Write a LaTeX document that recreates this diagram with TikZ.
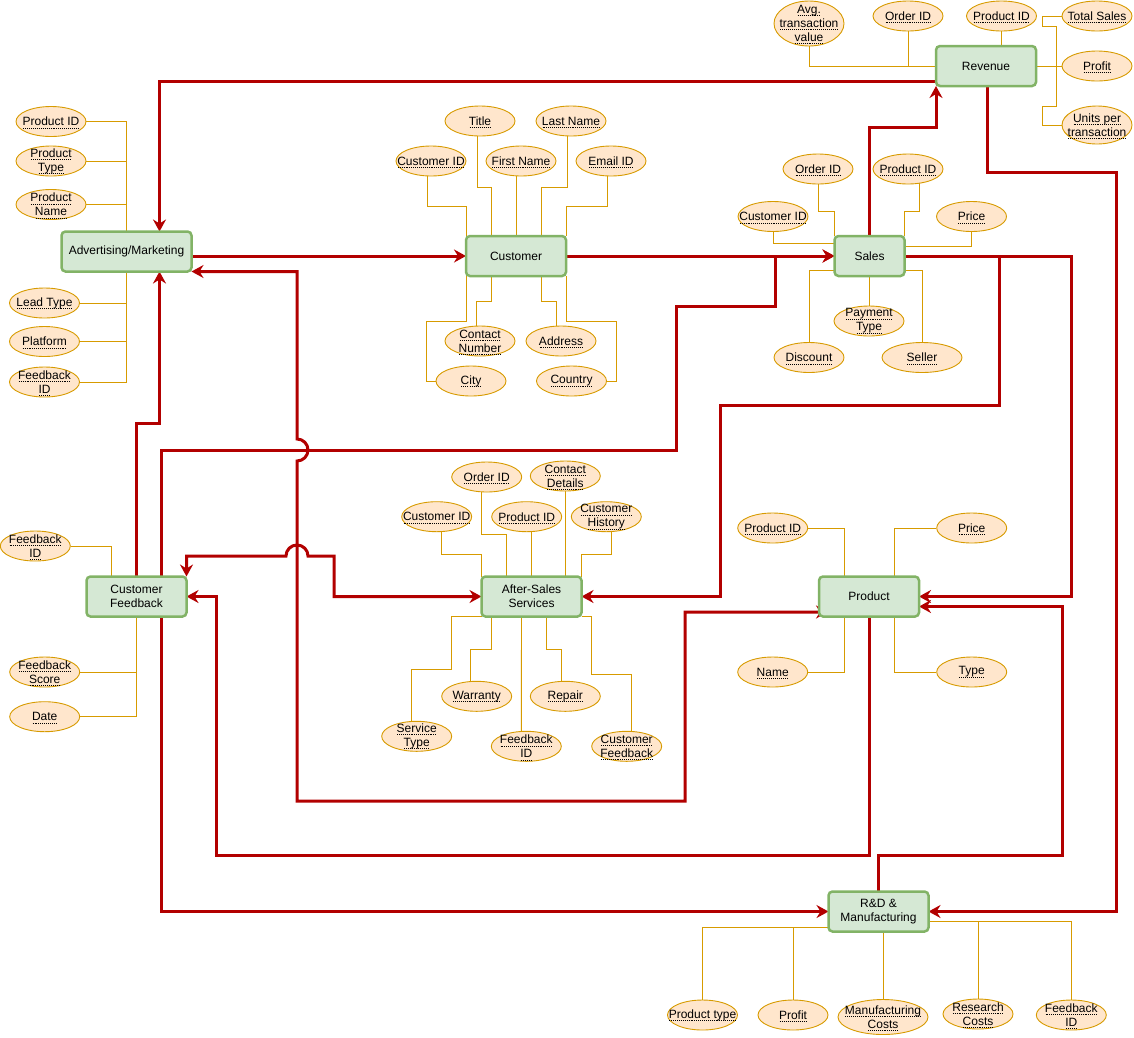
\documentclass[tikz,border=0pt]{standalone}
\usepackage{fontspec}
\setmainfont{Liberation Sans}
\usetikzlibrary{shapes.geometric,arrows.meta}
\pgfdeclarelayer{background}
\pgfsetlayers{background,main}
% dotted underline for attribute names
\newsavebox\dulbox
\newcommand\dul[1]{\sbox\dulbox{#1}\smash{\rlap{\lower2.5pt\hbox to\wd\dulbox{\xleaders\hbox{\kern0.5pt\vrule width0.9pt height0.6pt depth0pt\kern0.5pt}\hfill}}}\usebox\dulbox}

\begin{document}
\begin{tikzpicture}[x=1pt, y=-1pt,
    font=\fontsize{12}{14}\selectfont,
    >={Stealth[length=12pt,width=13pt,inset=4pt]},
    entity/.style={draw=entityBorder, fill=entityFill, line width=2.5pt, rounded corners=4pt,
        minimum width=100pt, minimum height=40pt, inner sep=0pt, outer sep=0pt, align=center},
    attr/.style={ellipse, draw=attrBorder, fill=attrFill, line width=0.9pt, minimum width=70pt,
        minimum height=30pt, inner xsep=-10pt, inner ysep=-4pt, align=center},
    attrLine/.style={draw=attrBorder, line width=0.9pt},
    link/.style={draw=linkRed, line width=3pt, ->},
    biLink/.style={draw=linkRed, line width=3pt, <->}]

    \definecolor{entityBorder}{HTML}{82B366}
    \definecolor{entityFill}{HTML}{D5E8D4}
    \definecolor{attrBorder}{HTML}{D79B00}
    \definecolor{attrFill}{HTML}{FFE6CC}
    \definecolor{linkRed}{HTML}{B20000}

    \useasboundingbox (0,0) rectangle (1134,1037);

    % Entities
    \node[entity] (revenue) at (986,66) {Revenue};
    \node[entity, minimum width=130pt] (adv) at (126.5,251.5) {Advertising/Marketing};
    \node[entity] (cust) at (516,256) {Customer};
    \node[entity, minimum width=70pt] (sales) at (869.5,256) {Sales};
    \node[entity] (custFb) at (136.5,596.5) {Customer\\Feedback};
    \node[entity] (after) at (531.5,596.5) {After-Sales\\Services};
    \node[entity] (product) at (869,596.5) {Product};
    \node[entity] (rnd) at (878.5,911.5) {R\&D \&\\Manufacturing};

    % Revenue attributes
    \node[attr, minimum height=45pt] (revAvg) at (809,23.5) {\dul{Avg.}\\\dul{transaction}\\\dul{value}};
    \node[attr] (revOrder) at (908,16) {\dul{Order ID}};
    \node[attr] (revProduct) at (1001.5,16) {\dul{Product ID}};
    \node[attr] (revTotal) at (1097,16) {\dul{Total Sales}};
    \node[attr] (revProfit) at (1097,66) {\dul{Profit}};
    \node[attr, minimum height=38pt] (revUnits) at (1097,125) {\dul{Units per}\\\dul{transaction}};

    % Advertising/Marketing attributes
    \node[attr] (adProduct) at (51,121.5) {\dul{Product ID}};
    \node[attr] (adType) at (51,161) {\dul{Product}\\\dul{Type}};
    \node[attr] (adName) at (51,204.5) {\dul{Product}\\\dul{Name}};
    \node[attr] (adLead) at (44.5,303) {\dul{Lead Type}};
    \node[attr] (adPlatform) at (44.5,341.5) {\dul{Platform}};
    \node[attr] (adFeedback) at (44.5,382) {\dul{Feedback}\\\dul{ID}};

    % Customer attributes
    \node[attr] (custTitle) at (480,121) {\dul{Title}};
    \node[attr] (custLast) at (571,121) {\dul{Last Name}};
    \node[attr] (custId) at (431,161) {\dul{Customer ID}};
    \node[attr] (custFirst) at (521,161) {\dul{First Name}};
    \node[attr] (custEmail) at (611,161) {\dul{Email ID}};
    \node[attr] (custContact) at (480,341) {\dul{Contact}\\\dul{Number}};
    \node[attr] (custAddress) at (561,341) {\dul{Address}};
    \node[attr] (custCity) at (471,381) {\dul{City}};
    \node[attr] (custCountry) at (571.5,381) {\dul{Country}};

    % Sales attributes
    \node[attr] (salesOrder) at (818,169) {\dul{Order ID}};
    \node[attr] (salesProduct) at (908,169) {\dul{Product ID}};
    \node[attr] (salesCust) at (773,216.5) {\dul{Customer ID}};
    \node[attr] (salesPrice) at (971.5,216.5) {\dul{Price}};
    \node[attr] (payType) at (869,321) {\dul{Payment}\\\dul{Type}};
    \node[attr] (salesDiscount) at (809,357.5) {\dul{Discount}};
    \node[attr, minimum width=80pt] (salesSeller) at (922,357.5) {\dul{Seller}};

    % After-Sales Services attributes
    \node[attr] (asOrder) at (486.7,477) {\dul{Order ID}};
    \node[attr] (asContact) at (565.3,476) {\dul{Contact}\\\dul{Details}};
    \node[attr] (asCust) at (436.7,516.7) {\dul{Customer ID}};
    \node[attr] (asProduct) at (526.7,516.7) {\dul{Product ID}};
    \node[attr] (asHistory) at (606.3,516.7) {\dul{Customer}\\\dul{History}};
    \node[attr] (asService) at (416.7,736.3) {\dul{Service}\\\dul{Type}};
    \node[attr] (asWarranty) at (476.7,696.3) {\dul{Warranty}};
    \node[attr] (asFeedback) at (526.3,746.3) {\dul{Feedback}\\\dul{ID}};
    \node[attr] (asRepair) at (565.3,696.3) {\dul{Repair}};
    \node[attr] (asCustFb) at (626.7,746.3) {\dul{Customer}\\\dul{Feedback}};

    % Customer Feedback attributes
    \node[attr] (cfId) at (35.3,546) {\dul{Feedback}\\\dul{ID}};
    \node[attr] (cfScore) at (44.7,672) {\dul{Feedback}\\\dul{Score}};
    \node[attr] (cfDate) at (44.7,716.7) {\dul{Date}};

    % Product attributes
    \node[attr] (prodId) at (772.7,528) {\dul{Product ID}};
    \node[attr] (prodPrice) at (971.7,528) {\dul{Price}};
    \node[attr] (prodName) at (772.7,672) {\dul{Name}};
    \node[attr] (prodType) at (971.7,672) {\dul{Type}};

    % R&D attributes
    \node[attr] (rdType) at (702.5,1015) {\dul{Product type}};
    \node[attr] (rdProfit) at (793,1015) {\dul{Profit}};
    \node[attr, minimum width=90pt, minimum height=35pt] (rdMfg) at (883,1017) {\dul{Manufacturing}\\\dul{Costs}};
    \node[attr] (rdResearch) at (978,1014) {\dul{Research}\\\dul{Costs}};
    \node[attr] (rdFeedback) at (1071.3,1015) {\dul{Feedback}\\\dul{ID}};

    \begin{pgfonlayer}{background}
    % Attribute lines
    \draw[attrLine] (revAvg.south) |- (revenue.west);
    \draw[attrLine] (revOrder.south) -- (revOrder.south |- revenue.west);
    \draw[attrLine] (revProduct.south) -- (revProduct.south |- revenue.north);
    \draw[attrLine] (revenue.east) -- (revProfit.west);
    \draw[attrLine] (revTotal.west) -- ++(-19,0) -- ++(0,10) -- ++(14,0) -- ++(0,80) -- ++(-14,0) |- (revUnits.west);

    \draw[attrLine] (adProduct.east) -| (adv.north);
    \draw[attrLine] (adType.east) -- (adType.east -| adv.north);
    \draw[attrLine] (adName.east) -- (adName.east -| adv.north);
    \draw[attrLine] (adFeedback.east) -| (adv.south);
    \draw[attrLine] (adLead.east) -- (adLead.east -| adv.south);
    \draw[attrLine] (adPlatform.east) -- (adPlatform.east -| adv.south);

    \draw[attrLine] ([xshift=-4pt]custId.south) -- ++(0,30) -| (cust.north west);
    \draw[attrLine] ([xshift=-3pt]custTitle.south) -- ++(0,51) -| ([xshift=-25pt]cust.north);
    \draw[attrLine] (cust.north) -- (cust.north |- custFirst.south);
    \draw[attrLine] ([xshift=-4pt]custLast.south) -- ++(0,51) -| ([xshift=25pt]cust.north);
    \draw[attrLine] ([xshift=-4pt]custEmail.south) -- ++(0,30) -| (cust.north east);
    \draw[attrLine] (cust.south west) -- ++(0,45) -- ++(-40,0) |- (custCity.west);
    \draw[attrLine] ([xshift=-25pt]cust.south) -- ++(0,25) -| ([xshift=-4pt]custContact.north);
    \draw[attrLine] ([xshift=25pt]cust.south) -- ++(0,25) -| ([xshift=-5pt]custAddress.north);
    \draw[attrLine] (cust.south east) -- ++(0,45) -- ++(50,0) |- (custCountry.east);

    \draw[attrLine] (salesOrder.south) -- ++(0,27) -| (sales.north west);
    \draw[attrLine] ([xshift=11pt,yshift=1pt]salesProduct.south) -- ++(0,28) -| (sales.north east);
    \draw[attrLine] (salesCust.south) |- ([yshift=-7pt]sales.north west);
    \draw[attrLine] (salesPrice.south) |- ([yshift=-10pt]sales.north east);
    \draw[attrLine] (salesDiscount.north) |- ([yshift=6pt]sales.south west);
    \draw[attrLine] (sales.south) -- (sales.south |- payType.north);
    \draw[attrLine] (salesSeller.north) |- ([yshift=6pt]sales.south east);

    \draw[attrLine] ([xshift=5pt]asCust.south) -- ++(0,22) -| (after.north west);
    \draw[attrLine] ([xshift=-5pt]asOrder.south) -- ++(0,42) -| ([xshift=-25pt]after.north);
    \draw[attrLine] ([xshift=5pt]asProduct.south) -- ([xshift=5pt]asProduct.south |- after.north);
    \draw[attrLine] (asContact.south) -- (asContact.south |- after.north);
    \draw[attrLine] ([xshift=5pt]asHistory.south) -- ++(0,22) -| (after.north east);
    \draw[attrLine] (after.south west) -- ++(-30,0) -- ++(0,53) -| ([xshift=-5pt]asService.north);
    \draw[attrLine] ([xshift=-40pt]after.south) -- ++(0,33) -| ([xshift=-6pt]asWarranty.north);
    \draw[attrLine] ([xshift=-10pt]after.south) -- ([xshift=-5pt]asFeedback.north);
    \draw[attrLine] ([xshift=15pt]after.south) -- ++(0,33) -| ([xshift=-4pt]asRepair.north);
    \draw[attrLine] (after.south east) -- ++(10,0) -- ++(0,58) -| ([xshift=5pt]asCustFb.north);

    \draw[attrLine] (cfId.east) -| ([xshift=-25pt]custFb.north);
    \draw[attrLine] (cfDate.east) -| (custFb.south);
    \draw[attrLine] (cfScore.east) -- (cfScore.east -| custFb.south);

    \draw[attrLine] (prodId.east) -| ([xshift=-25pt]product.north);
    \draw[attrLine] (prodPrice.west) -| ([xshift=25pt]product.north);
    \draw[attrLine] (prodName.east) -| ([xshift=-25pt]product.south);
    \draw[attrLine] (prodType.west) -| ([xshift=25pt]product.south);

    \draw[attrLine] (rdType.north) |- ([yshift=4pt]rnd.south west);
    \draw[attrLine] (rdProfit.north) -- (rdProfit.north |- 0,928);
    \draw[attrLine] (rdMfg.north) -- (rdMfg.north |- rnd.south);
    \draw[attrLine] (rdFeedback.north) |- ([yshift=-10pt]rnd.east);
    \draw[attrLine] (rdResearch.north) -- (rdResearch.north |- 0,921.5);

    % Relationship links
    \draw[link] ([yshift=-15pt]revenue.west) -| ([xshift=33pt]adv.north);
    \draw[link] (sales.north) -- ++(0,-109) -| (revenue.south west);
    \draw[link] ([xshift=1pt]revenue.south) -- ++(0,86) -- (1116,172) |- (rnd.east);
    \draw[link] ([yshift=-4.5pt]adv.east) -- (cust.west);
    \draw[link] (cust.east) -- (sales.west);
    \draw[link] (custFb.north) -- ++(0,-153) -| ([xshift=33pt]adv.south);
    \draw[biLink, shorten <=-9pt] ([yshift=-15.5pt]product.west) -- ++(-134,0) -- ++(0,189) -- (297,801)
        -- (297,461) arc[start angle=90, end angle=-90, radius=11] -- (297,271.5) -- (adv.south east);
    \draw[biLink] (rnd.west) -| (161,450) -- (676,450) |- (775,306) |- (sales.west);
    \draw[biLink] (after.west) -| (334,556) -- (308,556) arc[start angle=0, end angle=-180, radius=11]
        -| (custFb.north east);
    \draw[link] (sales.east) -- (999,256) |- (720,405) |- (after.east);
    \draw[link] (sales.east) -| (1071,500) |- (product.east);
    \draw[link] (rnd.north) -- ++(0,-36) -| (1062,700) |- ([yshift=-10pt]product.east);
    \draw[link] (product.south) |- (216,855) |- (custFb.east);
    \end{pgfonlayer}

\end{tikzpicture}
\end{document}
